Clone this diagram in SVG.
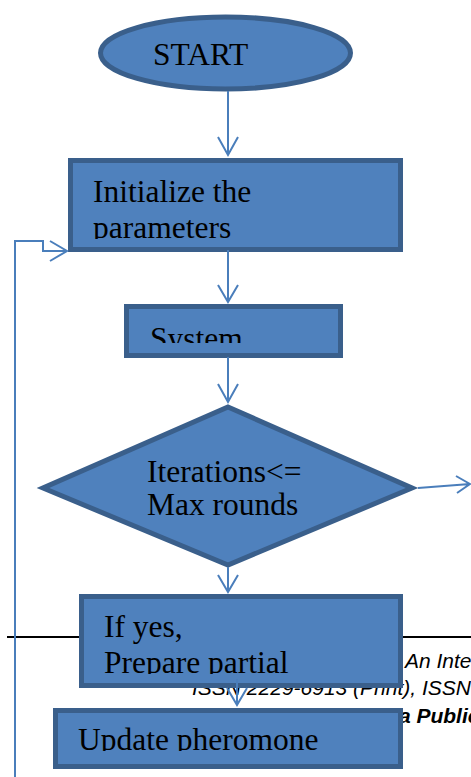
<svg xmlns="http://www.w3.org/2000/svg" width="471" height="777" viewBox="0 0 471 777">
<style>
.node{fill:#4F81BD;stroke:#3A5F8B;stroke-width:5;stroke-linejoin:miter}
.lbl{font-family:"Liberation Serif","Times New Roman",serif;font-size:31.5px;fill:#000}
.conn{fill:none;stroke:#4A7EBB;stroke-width:2}
.foot{font-family:"Liberation Sans",Arial,sans-serif;font-size:21px;font-style:italic;fill:#000}
</style>
<defs>
<clipPath id="cInit"><rect x="73" y="163" width="325" height="76"/></clipPath>
<clipPath id="cSys"><rect x="129" y="309" width="209" height="34"/></clipPath>
<clipPath id="cIf"><rect x="84" y="599" width="314" height="75"/></clipPath>
<clipPath id="cUpd"><rect x="58" y="713" width="340" height="38"/></clipPath>
</defs>
<rect width="471" height="777" fill="#fff"/>
<g id="page">
<line x1="7" y1="637" x2="471" y2="637" stroke="#000" stroke-width="2"/>
<text class="foot" x="405" y="668">An International</text>
<text class="foot" x="192" y="695">ISSN 2229-6913 (Print), ISSN</text>
<text class="foot" x="283" y="723">© 2011 <tspan font-weight="bold">Vidya Publications</tspan></text>
</g>
<g id="start">
<ellipse class="node" cx="225.5" cy="53" rx="125" ry="36"/>
<text class="lbl" x="153" y="65">START</text>
</g>
<g id="init">
<rect class="node" x="70.5" y="160.5" width="330" height="89"/>
<g clip-path="url(#cInit)">
<text class="lbl" x="93" y="202">Initialize the</text>
<text class="lbl" x="93" y="238">parameters</text>
</g>
</g>
<g id="system">
<rect class="node" x="126.5" y="306.5" width="214" height="49"/>
<g clip-path="url(#cSys)">
<text class="lbl" x="150" y="349">System</text>
</g>
</g>
<g id="decision">
<polygon class="node" points="228,407 412,488 228,565 43,488"/>
<text class="lbl" x="147" y="482">Iterations&lt;=</text>
<text class="lbl" x="147" y="515">Max rounds</text>
</g>
<g id="prepare">
<rect class="node" x="81.5" y="596.5" width="319" height="89"/>
<g clip-path="url(#cIf)">
<text class="lbl" x="104" y="637">If yes,</text>
<text class="lbl" x="104" y="673">Prepare partial</text>
</g>
</g>
<g id="update">
<rect class="node" x="55.5" y="710.5" width="345" height="56"/>
<g clip-path="url(#cUpd)">
<text class="lbl" x="78" y="750">Update pheromone</text>
</g>
</g>
<g id="connectors">
<path class="conn" d="M228,91 V155 M218,137 L228,155 L238,137"/>
<path class="conn" d="M228,250 V302 M218,285 L228,302 L238,285"/>
<path class="conn" d="M228,357 V402 M218,384 L228,402 L238,384"/>
<path class="conn" d="M228,567 V592 M218,575 L228,592 L238,575"/>
<path class="conn" d="M237,679 V705 M227,688 L237,705 L247,688"/>
<path class="conn" d="M418,488 L470,484 M456,476 L470,484 L457,493"/>
<path class="conn" d="M15,777 V241 H43 V251 H67 M50,241 L67,251 L50,261"/>
</g>
</svg>
